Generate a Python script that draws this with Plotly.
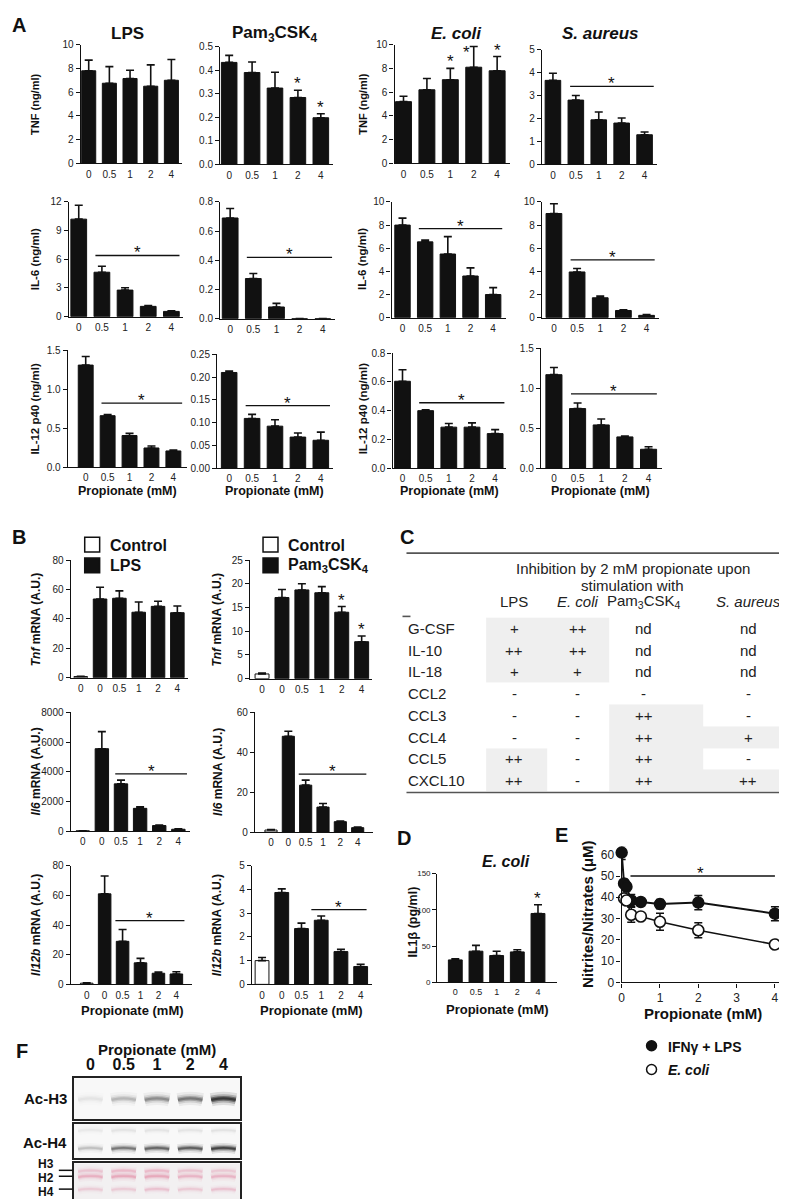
import plotly.graph_objects as go

W, H = 787, 1199
FONT = "Liberation Sans, Arial, Helvetica, sans-serif"
INK = "#111111"

# ---------------- data ----------------
doses = ["0", "0.5", "1", "2", "4"]
b_doses = ["0", "0", "0.5", "1", "2", "4"]

# Panel A (ng/ml): mean, SEM
tnf_lps = [7.8, 6.75, 7.15, 6.5, 7.0]
tnf_lps_err = [0.9, 1.4, 0.7, 1.8, 1.75]
tnf_pam = [0.433, 0.39, 0.324, 0.284, 0.198]
tnf_pam_err = [0.03, 0.045, 0.067, 0.031, 0.017]
tnf_ecoli = [5.2, 6.2, 7.05, 8.1, 7.8]
tnf_ecoli_err = [0.45, 0.95, 0.95, 1.75, 1.2]
tnf_saur = [3.66, 2.8, 1.94, 1.8, 1.29]
tnf_saur_err = [0.31, 0.2, 0.34, 0.22, 0.12]

il6_lps = [10.2, 4.65, 2.78, 1.08, 0.55]
il6_lps_err = [1.45, 0.62, 0.25, 0.08, 0.06]
il6_pam = [0.69, 0.275, 0.08, 0.0, 0.0]
il6_pam_err = [0.065, 0.035, 0.025, 0.0, 0.0]
il6_ecoli = [8.0, 6.55, 5.5, 3.6, 2.0]
il6_ecoli_err = [0.6, 0.15, 1.5, 0.7, 0.6]
il6_saur = [9.0, 3.95, 1.72, 0.62, 0.2]
il6_saur_err = [0.85, 0.3, 0.14, 0.06, 0.06]

il12_lps = [1.31, 0.66, 0.405, 0.245, 0.207]
il12_lps_err = [0.11, 0.015, 0.03, 0.025, 0.01]
il12_pam = [0.21, 0.109, 0.092, 0.068, 0.061]
il12_pam_err = [0.003, 0.009, 0.014, 0.009, 0.018]
il12_ecoli = [0.605, 0.4, 0.285, 0.285, 0.24]
il12_ecoli_err = [0.08, 0.006, 0.025, 0.03, 0.028]
il12_saur = [1.17, 0.745, 0.54, 0.39, 0.235]
il12_saur_err = [0.09, 0.07, 0.075, 0.01, 0.032]

# Panel B (A.U.): control, then LPS/Pam3CSK4 with propionate
tnf_mrna_lps = [0.8, 53.5, 54.0, 44.5, 48.5, 44.2]
tnf_mrna_lps_err = [0.2, 8.0, 5.0, 7.0, 3.5, 4.5]
tnf_mrna_pam = [1.0, 17.1, 18.7, 18.1, 14.0, 7.8]
tnf_mrna_pam_err = [0.2, 1.7, 1.3, 1.3, 1.2, 1.2]
il6_mrna_lps = [10, 5550, 3180, 1530, 370, 120]
il6_mrna_lps_err = [0, 1150, 250, 100, 40, 30]
il6_mrna_pam = [1.0, 48.0, 23.5, 12.5, 5.2, 2.2]
il6_mrna_pam_err = [0.2, 2.5, 2.5, 1.8, 0.3, 0.3]
il12b_mrna_lps = [0.8, 61.0, 29.0, 14.5, 7.5, 7.0]
il12b_mrna_lps_err = [0.2, 12.0, 8.0, 3.0, 0.8, 1.5]
il12b_mrna_pam = [1.0, 3.87, 2.35, 2.7, 1.38, 0.75]
il12b_mrna_pam_err = [0.13, 0.15, 0.23, 0.18, 0.1, 0.1]

# Panel C
table_rows = ["G-CSF", "IL-10", "IL-18", "CCL2", "CCL3", "CCL4", "CCL5", "CXCL10"]
table_cols = ["LPS", "<i>E. coli</i>", "Pam<sub>3</sub>CSK<sub>4</sub>", "<i>S. aureus</i>"]
table_vals = [
    ["+", "++", "nd", "nd"],
    ["++", "++", "nd", "nd"],
    ["+", "+", "nd", "nd"],
    ["-", "-", "-", "-"],
    ["-", "-", "++", "-"],
    ["-", "-", "++", "+"],
    ["++", "-", "++", "-"],
    ["++", "-", "++", "++"],
]
table_shade = [
    [1, 1, 0, 0],
    [1, 1, 0, 0],
    [1, 1, 0, 0],
    [0, 0, 0, 0],
    [0, 0, 1, 0],
    [0, 0, 1, 1],
    [1, 0, 1, 0],
    [1, 0, 1, 1],
]

# Panel D (pg/ml)
il1b_ecoli = [31, 43, 37, 42, 95]
il1b_ecoli_err = [1.5, 8, 6, 3, 12]

# Panel E (uM)
no_x_lps = [0, 0.0625, 0.125, 0.25, 0.5, 1, 2, 4]
no_y_lps = [61, 46.5, 45, 38.5, 37.8, 36.8, 37.5, 32.3]
no_err_lps = [3.2, 2.0, 2.0, 2.8, 1.5, 2.2, 3.3, 3.3]
no_x_ecoli = [0.0625, 0.125, 0.25, 0.5, 1, 2, 4]
no_y_ecoli = [39.5, 38.5, 31.8, 31.0, 28.5, 24.5, 17.8]
no_err_ecoli = [1.5, 2.0, 3.5, 1.0, 4.0, 3.5, 1.0]

# Panel F (relative band intensity per lane)
blot_lanes = ["0", "0.5", "1", "2", "4"]
ac_h3 = [0.06, 0.22, 0.4, 0.5, 0.95]
ac_h4 = [0.18, 0.5, 0.6, 0.65, 0.85]
ac_h4_upper = [0.05, 0.07, 0.07, 0.07, 0.08]
ponceau_h3 = [0.22, 0.28, 0.28, 0.22, 0.2]
ponceau_h2 = [0.35, 0.4, 0.4, 0.32, 0.32]
ponceau_h4 = [0.18, 0.18, 0.24, 0.2, 0.24]

# ---------------- helpers ----------------
fig = go.Figure()
layout = dict(width=W, height=H, autosize=False, margin=dict(l=0, r=0, t=0, b=0),
              paper_bgcolor="white", plot_bgcolor="rgba(0,0,0,0)", showlegend=False,
              font=dict(family=FONT, color=INK))
shapes, annots = [], []
count = [0]


def pxx(p):
    return p / W


def pxy(p):
    return 1 - p / H


def new_axes(x0, x1, ytop, ybot, xrange, yrange, xkw=None, ykw=None):
    count[0] += 1
    s = "" if count[0] == 1 else str(count[0])
    xa = dict(domain=[pxx(x0), pxx(x1)], range=xrange, anchor="y" + s, showline=True,
              linecolor=INK, linewidth=1.4, ticks="", ticklen=0, showgrid=False, zeroline=False,
              fixedrange=True, tickfont=dict(size=10, color="#222"), ticklabelstandoff=1)
    ya = dict(domain=[pxy(ybot), pxy(ytop)], range=yrange, anchor="x" + s, showline=True,
              linecolor=INK, linewidth=1.4, ticks="outside", ticklen=4, tickwidth=1.3,
              tickcolor=INK, showgrid=False, zeroline=False, fixedrange=True,
              tickfont=dict(size=10, color="#222"))
    if xkw:
        xa.update(xkw)
    if ykw:
        ya.update(ykw)
    layout["xaxis" + s] = xa
    layout["yaxis" + s] = ya
    return "x" + s, "y" + s


def cat_range(a, b, c0, cn, n):
    sp = (cn - c0) / (n - 1)
    return [-(c0 - a) / sp, (n - 1) + (b - cn) / sp]


def text(x, y, t, size=12, bold=True, angle=0, xanchor="center", yanchor="middle",
         xref="paper", yref="paper", color=INK, yshift=0):
    annots.append(dict(x=x, y=y, xref=xref, yref=yref, text=("<b>%s</b>" % t) if bold else t,
                       showarrow=False, textangle=angle, xanchor=xanchor, yanchor=yanchor,
                       font=dict(size=size, color=color, family=FONT), yshift=yshift))


def ptext(px, py, t, **kw):
    text(pxx(px), pxy(py), t, **kw)


def star(xa, ya, x, y, shift):
    annots.append(dict(x=x, y=y, xref=xa, yref=ya, text="*", showarrow=False,
                       yanchor="bottom", yshift=shift, borderpad=0,
                       font=dict(size=17, color=INK, family=FONT)))


def bar_panel(pos, vals, errs, labels, ymax, dtick, fmt, colors=None, line=None,
              stars=(), xfont=10, yfont=10, width=0.68):
    a, b, c0, cn, ytop, ybot = pos
    n = len(vals)
    xa, ya = new_axes(a, b, ytop, ybot, cat_range(a, b, c0, cn, n), [0, ymax],
                      xkw=dict(tickvals=list(range(n)), ticktext=labels,
                               tickfont=dict(size=xfont, color="#222")),
                      ykw=dict(dtick=dtick, tick0=0, tickformat=fmt,
                               tickfont=dict(size=yfont, color="#222")))
    fig.add_trace(go.Bar(x=list(range(n)), y=vals, width=width,
                         marker=dict(color=colors or [INK] * n, line=dict(color=INK, width=1)),
                         error_y=dict(type="data", symmetric=False, array=errs,
                                      arrayminus=[0] * n, color=INK, thickness=1.6, width=4),
                         xaxis=xa, yaxis=ya, hoverinfo="skip"))
    if line is not None:
        lx0, lx1, ly = line
        shapes.append(dict(type="line", xref=xa, yref=ya, x0=lx0, x1=lx1, y0=ly, y1=ly,
                           line=dict(color=INK, width=1.3)))
        star(xa, ya, (lx0 + lx1) / 2, ly, -8)
    for st in stars:
        i, dx, sh = st if isinstance(st, tuple) else (st, 0, -4)
        star(xa, ya, i + dx, vals[i] + errs[i], sh)
    return xa, ya


# ---------------- Panel A ----------------
ptext(8, 11, "A", size=20)
for px_, t in [(117, "LPS"), (265, "Pam<sub>3</sub>CSK<sub>4</sub>"),
               (447, "<i>E. coli</i>"), (592, "<i>S. aureus</i>")]:
    ptext(px_, 20, t, size=17)

bar_panel((70, 172, 78, 161, 31, 151), tnf_lps, tnf_lps_err, doses, 10, 2, "d")
bar_panel((210, 323, 219, 311, 33, 152), tnf_pam, tnf_pam_err, doses, 0.5, 0.1, ".1f", stars=(3, 4))
bar_panel((385, 501, 394, 488, 31, 151), tnf_ecoli, tnf_ecoli_err, doses, 10, 2, "d",
          stars=(2, (3, -0.32, -17), 4))
bar_panel((533, 648, 544, 636, 36, 152), tnf_saur, tnf_saur_err, doses, 5, 1, "d",
          line=(0.75, 4.4, 3.4))

bar_panel((58, 173, 68, 161, 190, 306), il6_lps, il6_lps_err, doses, 12, 3, "d", line=(0.72, 4.35, 6.4))
bar_panel((210, 325, 220, 313, 190, 308), il6_pam, il6_pam_err, doses, 0.8, 0.2, ".1f", line=(0.72, 4.4, 0.42))
bar_panel((382, 497, 393, 484, 190, 307), il6_ecoli, il6_ecoli_err, doses, 10, 2, "d", line=(0.72, 4.4, 7.7))
bar_panel((533, 650, 545, 638, 190, 307), il6_saur, il6_saur_err, doses, 10, 2, "d", line=(0.72, 4.35, 5.0))

bar_panel((57, 177, 75, 163, 340, 458), il12_lps, il12_lps_err, doses, 1.5, 0.5, ".1f", line=(0.72, 4.4, 0.82))
bar_panel((207, 323, 219, 311, 344, 459), il12_pam, il12_pam_err, doses, 0.25, 0.05, ".2f", line=(0.72, 4.4, 0.137))
bar_panel((383, 497, 393, 486, 343, 459), il12_ecoli, il12_ecoli_err, doses, 0.8, 0.2, ".1f", line=(0.72, 4.4, 0.455))
bar_panel((532, 653, 545, 640, 338, 459), il12_saur, il12_saur_err, doses, 1.5, 0.5, ".1f", line=(0.72, 4.35, 0.93))

for px_ in (24, 353):
    ptext(px_, 91, "TNF (ng/ml)", size=11, angle=-90)
    ptext(px_, 248, "IL-6 (ng/ml)", size=11.5, angle=-90)
    ptext(px_, 399, "IL-12 p40 (ng/ml)", size=11.5, angle=-90)
for px_ in (117, 265, 440, 592):
    ptext(px_, 482, "Propionate (mM)", size=12.5)

# ---------------- Panel B ----------------
ptext(8, 529, "B", size=20)
ctrl_colors = ["white"] + [INK] * 5
for bx, lab in [(74, "LPS"), (253, "Pam<sub>3</sub>CSK<sub>4</sub>")]:
    shapes.append(dict(type="rect", xref="paper", yref="paper", x0=pxx(bx), x1=pxx(bx + 15),
                       y0=pxy(544), y1=pxy(529), line=dict(color=INK, width=1.5), fillcolor="white"))
    shapes.append(dict(type="rect", xref="paper", yref="paper", x0=pxx(bx), x1=pxx(bx + 15),
                       y0=pxy(565), y1=pxy(550), line=dict(color=INK, width=1.5), fillcolor=INK))
    ptext(bx + 23, 537, "Control", size=16, xanchor="left")
    ptext(bx + 23, 558, lab, size=16, xanchor="left")

bar_panel((60, 178, 70, 167, 552, 671), tnf_mrna_lps, tnf_mrna_lps_err, b_doses, 80, 20, "d",
          colors=ctrl_colors, width=0.7)
bar_panel((240, 362, 252, 352, 552, 672), tnf_mrna_pam, tnf_mrna_pam_err, b_doses, 25, 5, "d",
          colors=ctrl_colors, stars=(4, 5), width=0.7)
bar_panel((60, 180, 72, 168, 706, 826), il6_mrna_lps, il6_mrna_lps_err, b_doses, 8000, 2000, "d",
          colors=ctrl_colors, line=(1.7, 5.45, 3850), width=0.7)
bar_panel((245, 363, 261, 348, 706, 827), il6_mrna_pam, il6_mrna_pam_err, b_doses, 60, 20, "d",
          colors=ctrl_colors, line=(1.6, 5.5, 29), width=0.7)
bar_panel((60, 182, 76, 166, 861, 981), il12b_mrna_lps, il12b_mrna_lps_err, b_doses, 80, 20, "d",
          colors=ctrl_colors, line=(1.6, 5.45, 43), width=0.7)
bar_panel((242, 362, 252, 351, 861, 981), il12b_mrna_pam, il12b_mrna_pam_err, b_doses, 5, 1, "d",
          colors=ctrl_colors, line=(2.5, 5.3, 3.15), width=0.7)

for px_ in (25, 207):
    ptext(px_, 612, "<i>Tnf</i> mRNA (A.U.)", size=12, angle=-90)
    ptext(px_, 766, "<i>Il6</i> mRNA (A.U.)", size=12, angle=-90)
    ptext(px_, 921, "<i>Il12b</i> mRNA (A.U.)", size=12, angle=-90)
for px_ in (122, 302):
    ptext(px_, 1007, "Propionate (mM)", size=13)

# ---------------- Panel C ----------------
ptext(398, 529, "C", size=20)
TL, TR = 397, 777
tx, ty = new_axes(TL, TR, 610, 786, [0, TR - TL], [7.5, -0.5],
                  xkw=dict(visible=False), ykw=dict(visible=False))
col_edges = [80, 141, 203, 298, 380]
col_centers = [108, 172, 238, 343]
fig.add_trace(go.Heatmap(z=table_shade, x=col_edges, y=[i - 0.5 for i in range(len(table_rows) + 1)],
                         colorscale=[[0, "white"], [1, "#efefef"]], zmin=0, zmax=1,
                         showscale=False, hoverinfo="skip", xaxis=tx, yaxis=ty))
for r, name in enumerate(table_rows):
    annots.append(dict(x=0, y=r, xref=tx, yref=ty, text=name, showarrow=False, xanchor="left",
                       font=dict(size=15, color="#222", family=FONT)))
    for c, v in enumerate(table_vals[r]):
        annots.append(dict(x=col_centers[c], y=r, xref=tx, yref=ty, text=v, showarrow=False,
                           font=dict(size=15, color="#222", family=FONT)))
for c, name in enumerate(table_cols):
    ptext(TL + col_centers[c], 594, name, size=15, bold=False, color="#222")
ptext(624, 561, "Inhibition by 2 mM propionate upon", size=15, bold=False, color="#222")
ptext(624, 578, "stimulation with", size=15, bold=False, color="#222")
for yy, x0, x1 in [(545, TL, TR), (787, TL, TR), (609, 393, 401)]:
    shapes.append(dict(type="line", xref="paper", yref="paper", x0=pxx(x0), x1=pxx(x1),
                       y0=pxy(yy), y1=pxy(yy), line=dict(color="#555", width=1.6)))

# ---------------- Panel D ----------------
ptext(395, 833, "D", size=20)
bar_panel((428, 548, 446, 529, 869, 979), il1b_ecoli, il1b_ecoli_err, doses, 150, 50, "d",
          stars=(4,), xfont=9, yfont=8, width=0.67)
ptext(497, 857, "<i>E. coli</i>", size=16)
ptext(404, 918, "IL1β (pg/ml)", size=12.5, angle=-90)
ptext(488, 1006, "Propionate (mM)", size=13)

# ---------------- Panel E ----------------
ptext(553, 830, "E", size=20)
ex, ey = new_axes(613, 783, 842, 979, [0, 4.42], [0, 63.7],
                  xkw=dict(ticks="outside", ticklen=4, tickwidth=1.3, tickcolor=INK, dtick=1,
                           tick0=0, tickfont=dict(size=12, color="#222"), ticklabelstandoff=0),
                  ykw=dict(dtick=10, tick0=0, tickfont=dict(size=12, color="#222")))
fig.add_trace(go.Scatter(x=no_x_lps, y=no_y_lps, mode="lines+markers",
                         line=dict(color=INK, width=2),
                         marker=dict(size=11, color=INK, line=dict(color=INK, width=1.5)),
                         error_y=dict(type="data", array=no_err_lps, color=INK, thickness=1.5, width=4),
                         xaxis=ex, yaxis=ey, cliponaxis=False, hoverinfo="skip"))
fig.add_trace(go.Scatter(x=no_x_ecoli, y=no_y_ecoli, mode="lines+markers",
                         line=dict(color=INK, width=1.6),
                         marker=dict(size=11, color="white", line=dict(color=INK, width=1.6)),
                         error_y=dict(type="data", array=no_err_ecoli, color=INK, thickness=1.5, width=4),
                         xaxis=ex, yaxis=ey, cliponaxis=False, hoverinfo="skip"))
shapes.append(dict(type="line", xref=ex, yref=ey, x0=0.23, x1=4.0, y0=50, y1=50,
                   line=dict(color=INK, width=1.3)))
star(ex, ey, 2.05, 50, -8)
ptext(578, 910, "Nitrites/Nitrates (μM)", size=15, angle=-90)
ptext(695, 1010, "Propionate (mM)", size=15)
# legend
shapes.append(dict(type="circle", xref="paper", yref="paper", x0=pxx(638), x1=pxx(648),
                   y0=pxy(1048), y1=pxy(1038), fillcolor=INK, line=dict(color=INK, width=1.5)))
shapes.append(dict(type="circle", xref="paper", yref="paper", x0=pxx(638), x1=pxx(648),
                   y0=pxy(1072), y1=pxy(1062), fillcolor="white", line=dict(color=INK, width=1.5)))
ptext(658, 1044, "IFNγ + LPS", size=14, xanchor="left")
ptext(658, 1068, "<i>E. coli</i>", size=14, xanchor="left")

# ---------------- Panel F ----------------
ptext(11, 1048, "F", size=20)
ptext(147, 1047, "Propionate (mM)", size=15)
strips = [(1076, 1117), (1122, 1157), (1162, 1198)]
strip_axes = []
for k, (t0, t1) in enumerate(strips):
    xkw = dict(showline=True, mirror=True, linewidth=1.6, linecolor="#222", showticklabels=False)
    if k == 0:
        xkw.update(showticklabels=True, side="top", tickvals=list(range(5)),
                   ticktext=["<b>%s</b>" % s for s in blot_lanes],
                   tickfont=dict(size=16, color=INK), ticklabelstandoff=0)
    xa, ya = new_axes(63, 230, t0, t1, [-0.5, 4.5], [0, 1], xkw=xkw,
                      ykw=dict(mirror=True, linewidth=1.6, linecolor="#222", ticks="",
                               showticklabels=False))
    strip_axes.append((xa, ya))
    shapes.append(dict(type="rect", xref=xa + " domain", yref=ya + " domain", x0=0, x1=1, y0=0, y1=1,
                       fillcolor="#f8f8f8" if k < 2 else "#f2f0f1", line=dict(width=0), layer="below"))


def add_band(axes, intens, yb, rgb, thick=1.0):
    xa, ya = axes
    for i, v in enumerate(intens):
        for w, f in [(11 * thick, 0.12), (7 * thick, 0.25), (4 * thick, 0.45), (2 * thick, 0.6)]:
            fig.add_trace(go.Scatter(x=[i - 0.37, i - 0.15, i + 0.15, i + 0.37],
                                     y=[yb - 0.03, yb, yb, yb - 0.03],
                                     mode="lines",
                                     line=dict(color="rgba(%d,%d,%d,%.3f)" % (rgb + (min(1, v * f),)),
                                               width=w, shape="spline"),
                                     xaxis=xa, yaxis=ya, hoverinfo="skip"))


add_band(strip_axes[0], ac_h3, 0.5, (20, 20, 20), thick=1.2)
add_band(strip_axes[1], ac_h4, 0.3, (20, 20, 20), thick=0.9)
add_band(strip_axes[1], ac_h4_upper, 0.82, (60, 60, 60), thick=0.8)
add_band(strip_axes[2], ponceau_h3, 0.8, (220, 90, 130), thick=0.8)
add_band(strip_axes[2], ponceau_h2, 0.64, (220, 90, 130), thick=0.9)
add_band(strip_axes[2], ponceau_h4, 0.28, (220, 90, 130), thick=0.8)

ptext(58, 1096, "Ac-H3", size=15, xanchor="right")
ptext(58, 1141, "Ac-H4", size=15, xanchor="right")
for yy, lab, ly in [(1163, "H3", 1169), (1177, "H2", 1175), (1191, "H4", 1188)]:
    ptext(35, yy, lab, size=12)
    shapes.append(dict(type="line", xref="paper", yref="paper", x0=pxx(48), x1=pxx(62),
                       y0=pxy(ly), y1=pxy(ly), line=dict(color=INK, width=1.5)))

layout["shapes"] = shapes
layout["annotations"] = annots
fig.update_layout(**layout)
fig.write_html("out.html")
